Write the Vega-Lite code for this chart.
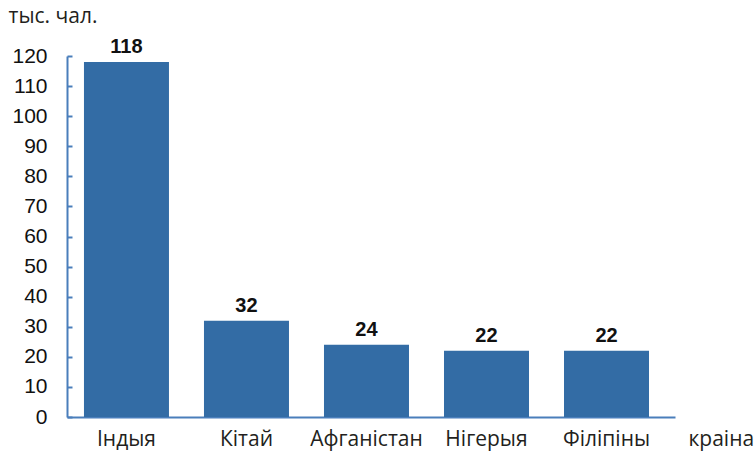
{
  "$schema": "https://vega.github.io/schema/vega-lite/v6.json",
  "autosize": "none",
  "width": 608,
  "height": 361,
  "padding": {"left": 67, "top": 56, "right": 81, "bottom": 35},
  "background": "white",
  "config": {"view": {"stroke": null}},
  "data": {
    "values": [
      {"country": "Індыя", "value": 118},
      {"country": "Кітай", "value": 32},
      {"country": "Афганістан", "value": 24},
      {"country": "Нігерыя", "value": 22},
      {"country": "Філіпіны", "value": 22}
    ]
  },
  "encoding": {
    "x": {
      "field": "country",
      "type": "nominal",
      "sort": null,
      "scale": {"paddingInner": 0.2917, "paddingOuter": 0.179, "align": 0.395},
      "axis": {
        "title": "краіна",
        "titleFont": "Open Sans",
        "titleFontSize": 21,
        "titleFontWeight": "normal",
        "titleColor": "#231f20",
        "titleAlign": "left",
        "titleBaseline": "alphabetic",
        "titleX": 621,
        "titleY": 28,
        "labelAngle": 0,
        "labelFont": "Open Sans",
        "labelFontSize": 21,
        "labelColor": "#231f20",
        "labelBaseline": "alphabetic",
        "labelPadding": 28,
        "labelDx": -5,
        "ticks": false,
        "domainColor": "#4a7ebb",
        "domainWidth": 2,
        "grid": false
      }
    },
    "y": {
      "field": "value",
      "type": "quantitative",
      "scale": {"domain": [0, 120]},
      "axis": {
        "values": [0, 10, 20, 30, 40, 50, 60, 70, 80, 90, 100, 110, 120],
        "title": "тыс. чал.",
        "titleFont": "Open Sans",
        "titleFontSize": 21,
        "titleFontWeight": "normal",
        "titleColor": "#231f20",
        "titleAngle": 0,
        "titleAlign": "left",
        "titleBaseline": "alphabetic",
        "titleX": -59,
        "titleY": -34,
        "labelFont": "Liberation Sans",
        "labelFontSize": 21,
        "labelColor": "#111111",
        "labelPadding": 25,
        "tickSize": -5,
        "tickColor": "#4a7ebb",
        "tickWidth": 2,
        "domainColor": "#4a7ebb",
        "domainWidth": 2,
        "grid": false
      }
    }
  },
  "layer": [
    {"mark": {"type": "bar", "color": "#336ca5"}},
    {
      "mark": {
        "type": "text",
        "font": "Liberation Sans",
        "fontSize": 20,
        "fontWeight": "bold",
        "color": "#111111",
        "baseline": "alphabetic",
        "dy": -9
      },
      "encoding": {"text": {"field": "value", "type": "quantitative"}}
    }
  ]
}
